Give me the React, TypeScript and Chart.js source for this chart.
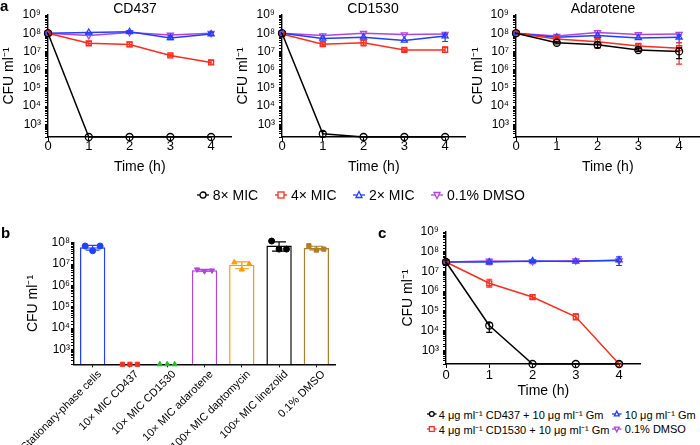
import React, { useEffect, useRef } from 'react';
import { Chart, registerables } from 'chart.js';

Chart.register(...registerables);

const FONT = '"Liberation Sans", Arial, Helvetica, sans-serif';
const BLACK = '#000000';
const RED = '#ff2b1c';
const BLUE = '#1f40ff';
const PURPLE = '#b443e0';
const GREEN = '#1fc41f';
const ORANGE = '#ff9a00';
const BROWN = '#b07d2a';

// ---------- Panel a ----------
const timeH = [0, 1, 2, 3, 4];

const cd437_8x = [1e8, 200, 200, 200, 200];
const cd437_4x = [1e8, 2.8e7, 2.4e7, 6e6, 2.5e6];
const cd437_2x = [1e8, 1.1e8, 1.2e8, 5.5e7, 9e7];
const cd437_dmso = [1e8, 7.5e7, 1.1e8, 8e7, 1e8];
const cd437_4x_err = [null, [2.2e7, 3.6e7], [1.8e7, 3.2e7], [5e6, 7e6], [2e6, 3.2e6]];
const cd437_2x_err = [null, null, [1e8, 1.35e8], [4.5e7, 7e7], [7.5e7, 1.1e8]];

const cd1530_8x = [1e8, 300, 200, 200, 200];
const cd1530_4x = [9e7, 2.5e7, 3e7, 1.2e7, 1.2e7];
const cd1530_2x = [1e8, 5.2e7, 6e7, 4e7, 7e7];
const cd1530_dmso = [1e8, 7.4e7, 1e8, 8.4e7, 9e7];
const cd1530_8x_err = [null, [200, 400], null, null, null];
const cd1530_4x_err = [null, [2e7, 3.2e7], [2e7, 4e7], [1e7, 1.4e7], [9e6, 1.8e7]];
const cd1530_2x_err = [null, null, null, null, [3.5e7, 9e7]];

const ada_8x = [1e8, 3e7, 2.3e7, 1.2e7, 1e7];
const ada_4x = [1e8, 4.8e7, 3.4e7, 2e7, 1.5e7];
const ada_2x = [1e8, 6e7, 7.5e7, 5.5e7, 6e7];
const ada_dmso = [1e8, 7e7, 1.1e8, 8.5e7, 9e7];
const ada_8x_err = [null, [2.6e7, 3.4e7], [1.6e7, 3e7], [1e7, 1.5e7], [4e6, 1.6e7]];
const ada_4x_err = [null, null, [1.5e7, 5e7], [1.5e7, 2.5e7], [2e6, 3e7]];
const ada_2x_err = [null, null, null, null, [3e7, 8e7]];

const legendA = ['8× MIC', '4× MIC', '2× MIC', '0.1% DMSO'];

// ---------- Panel b ----------
const bCategories = [
  'Stationary-phase cells',
  '10× MIC CD437',
  '10× MIC CD1530',
  '10× MIC adarotene',
  '100× MIC daptomycin',
  '100× MIC linezolid',
  '0.1% DMSO',
];
const bMeans = [6.2e7, null, null, 5.1e6, 9.2e6, 7.3e7, 5.6e7];
const bRepA = [7e7, 200, 200, 5.6e6, 1.2e7, 1.2e8, 7.2e7];
const bRepB = [4.2e7, 200, 200, 4.6e6, 5.5e6, 5e7, 4.5e7];
const bRepC = [7e7, 200, 200, 5e6, 1e7, 5e7, 5e7];
const bErrs = [[4.5e7, 7.5e7], null, null, [4.6e6, 5.6e6], [6e6, 1.25e7], [4e7, 1.1e8], [4.6e7, 6.8e7]];

// ---------- Panel c ----------
const c_cd437gm = [3e7, 1.8e4, 200, 200, 200];
const c_cd1530gm = [3e7, 2.5e6, 5e5, 5e4, 200];
const c_gm = [3e7, 3e7, 3.4e7, 3.2e7, 3.8e7];
const c_dmso = [3e7, 3.4e7, 3.2e7, 3.5e7, 3.5e7];
const c_cd437gm_err = [[2.2e7, 3.8e7], [8e3, 2.5e4], null, null, null];
const c_cd1530gm_err = [[2.5e7, 4e7], [1.6e6, 4e6], [4e5, 6.5e5], [3.5e4, 7e4], null];
const c_gm_err = [null, null, null, null, [2e7, 5.5e7]];
const c_dmso_err = [null, [2.2e7, 4e7], [2.5e7, 4e7], null, null];

const legendC = [
  '4 μg ml⁻¹ CD437 + 10 μg ml⁻¹ Gm',
  '4 μg ml⁻¹ CD1530 + 10 μg ml⁻¹ Gm',
  '10 μg ml⁻¹ Gm',
  '0.1% DMSO',
];

// ---------- helpers ----------
const SUP = ['⁰', '¹', '²', '³', '⁴', '⁵', '⁶', '⁷', '⁸', '⁹'];
function decadeLabel(v: number) {
  const e = Math.log10(v);
  const r = Math.round(e);
  if (Math.abs(e - r) > 1e-6) return '';
  return '10' + String(r).split('').map((d) => SUP[+d]).join('');
}

const errorBarPlugin = {
  id: 'errorBars',
  afterDatasetDraw(chart: any, args: any) {
    const ds = chart.data.datasets[args.index];
    const errs = ds.errs;
    if (!errs) return;
    const meta = args.meta;
    const ys = chart.scales[meta.yAxisID];
    const ctx = chart.ctx;
    ctx.save();
    ctx.lineWidth = ds.errWidth || 1.2;
    const cap = ds.capHalf || 3;
    errs.forEach((e: any, j: number) => {
      if (!e) return;
      const el = meta.data[j];
      if (!el) return;
      const col = Array.isArray(ds.borderColor) ? ds.borderColor[j] : ds.borderColor;
      ctx.strokeStyle = col;
      const x = el.x;
      const y1 = ys.getPixelForValue(e[0]);
      const y2 = ys.getPixelForValue(e[1]);
      ctx.beginPath();
      ctx.moveTo(x, y1);
      ctx.lineTo(x, y2);
      ctx.moveTo(x - cap, y1);
      ctx.lineTo(x + cap, y1);
      ctx.moveTo(x - cap, y2);
      ctx.lineTo(x + cap, y2);
      ctx.stroke();
    });
    ctx.restore();
  },
};

function series(label: string, values: number[], color: string, style: string, errs: any = null, rot = 0) {
  return {
    label,
    data: timeH.map((t, i) => ({ x: t, y: values[i] })),
    borderColor: color,
    backgroundColor: color,
    borderWidth: 1.5,
    pointStyle: style,
    rotation: rot,
    pointRadius: 3.5,
    pointBorderWidth: 1.3,
    pointBackgroundColor: 'rgba(255,255,255,0)',
    pointBorderColor: color,
    clip: false,
    tension: 0,
    errs,
  };
}

const axisGrid = (tl: number) => ({
  drawOnChartArea: false,
  drawTicks: true,
  tickLength: tl,
  color: '#000',
  lineWidth: 1,
});
const axisBorder = { display: true, color: '#000', width: 1.4 };

type Plot = { l: number; t: number; r: number; b: number };

function timeConfig(w: number, h: number, plot: Plot, yTitlePad: number, xTickPad: number, xTitlePad: number, datasets: any[]) {
  return {
    type: 'line',
    data: { datasets },
    plugins: [errorBarPlugin],
    options: {
      responsive: false,
      animation: false,
      devicePixelRatio: 1,
      events: [],
      layout: { padding: { left: 0, top: plot.t, right: w - plot.r, bottom: 0 }, autoPadding: false },
      plugins: { legend: { display: false }, tooltip: { enabled: false }, title: { display: false } },
      scales: {
        x: {
          type: 'linear',
          min: 0,
          max: 4.5,
          afterBuildTicks: (s: any) => {
            s.ticks = timeH.map((v) => ({ value: v }));
          },
          afterFit: (s: any) => {
            s.height = h - plot.b;
            s.paddingLeft = 0;
            s.paddingRight = 0;
          },
          grid: axisGrid(4),
          border: axisBorder,
          ticks: {
            color: '#000',
            font: { family: FONT, size: 13, lineHeight: 1 },
            padding: xTickPad,
            maxRotation: 0,
            autoSkip: false,
          },
          title: {
            display: true,
            text: 'Time (h)',
            color: '#000',
            font: { family: FONT, size: 14, lineHeight: 1.2 },
            padding: { top: 0, bottom: xTitlePad },
          },
        },
        y: {
          type: 'logarithmic',
          min: 200,
          max: 1e9,
          afterFit: (s: any) => {
            s.width = plot.l;
            s.paddingTop = 0;
            s.paddingBottom = 0;
          },
          grid: axisGrid(3),
          border: axisBorder,
          ticks: {
            color: '#000',
            font: { family: FONT, size: 12 },
            padding: 4,
            autoSkip: false,
            callback: (v: any) => decadeLabel(Number(v)),
          },
          title: {
            display: true,
            text: 'CFU ml⁻¹',
            color: '#000',
            font: { family: FONT, size: 14, lineHeight: 1.2 },
            padding: { top: yTitlePad, bottom: 0 },
          },
        },
      },
    },
  };
}

function barConfig(w: number, h: number, plot: Plot) {
  const colors = [BLUE, RED, GREEN, PURPLE, ORANGE, BLACK, BROWN];
  const styles = ['circle', 'rect', 'triangle', 'triangle', 'triangle', 'circle', 'rect'];
  const rots = [0, 0, 0, 180, 0, 0, 0];
  const offs = [-0.2, 0, 0.2];
  const reps = [bRepA, bRepB, bRepC];
  const pts: any[] = [];
  const pStyle: string[] = [];
  const pRot: number[] = [];
  const pCol: string[] = [];
  bCategories.forEach((_, i) => {
    reps.forEach((r, k) => {
      pts.push({ x: i + offs[k], y: r[i] });
      pStyle.push(styles[i]);
      pRot.push(rots[i]);
      pCol.push(colors[i]);
    });
  });
  return {
    type: 'bar',
    data: {
      labels: bCategories,
      datasets: [
        {
          type: 'scatter',
          xAxisID: 'x2',
          data: pts,
          pointStyle: pStyle,
          rotation: pRot,
          pointRadius: 3,
          pointBorderWidth: 1,
          pointBackgroundColor: pCol,
          pointBorderColor: pCol,
          clip: false,
        },
        {
          type: 'bar',
          xAxisID: 'x',
          data: bMeans,
          backgroundColor: '#ffffff',
          borderColor: colors,
          borderWidth: 1.5,
          barPercentage: 0.68,
          categoryPercentage: 1,
          grouped: false,
          errs: bErrs,
          capHalf: 7,
          clip: false,
        },
      ],
    },
    plugins: [errorBarPlugin],
    options: {
      responsive: false,
      animation: false,
      devicePixelRatio: 1,
      events: [],
      layout: { padding: { left: 0, top: plot.t, right: w - plot.r, bottom: 0 }, autoPadding: false },
      plugins: { legend: { display: false }, tooltip: { enabled: false } },
      scales: {
        x: {
          type: 'category',
          offset: true,
          afterFit: (s: any) => {
            s.height = h - plot.b;
            s.paddingLeft = 0;
            s.paddingRight = 0;
          },
          grid: { ...axisGrid(3), offset: false },
          border: axisBorder,
          ticks: {
            color: '#000',
            font: { family: FONT, size: 11, lineHeight: 1.1 },
            padding: 1,
            labelOffset: 7,
            minRotation: 45,
            maxRotation: 45,
            autoSkip: false,
          },
        },
        x2: {
          type: 'linear',
          min: -0.5,
          max: 6.5,
          offset: false,
          grid: { offset: false },
          display: false,
        },
        y: {
          type: 'logarithmic',
          min: 200,
          max: 1e8,
          afterFit: (s: any) => {
            s.width = plot.l;
            s.paddingTop = 0;
            s.paddingBottom = 0;
          },
          grid: axisGrid(3),
          border: axisBorder,
          ticks: {
            color: '#000',
            font: { family: FONT, size: 12 },
            padding: 1,
            autoSkip: false,
            callback: (v: any) => decadeLabel(Number(v)),
          },
          title: {
            display: true,
            text: 'CFU ml⁻¹',
            color: '#000',
            font: { family: FONT, size: 14, lineHeight: 1.2 },
            padding: { top: 24.6, bottom: 0 },
          },
        },
      },
    },
  };
}

function ChartCanvas({ left, top, width, height, config }: any) {
  const ref = useRef<HTMLCanvasElement>(null);
  useEffect(() => {
    const chart = new Chart(ref.current as HTMLCanvasElement, config() as any);
    return () => chart.destroy();
  }, []);
  return (
    <canvas
      ref={ref}
      width={width}
      height={height}
      style={{ position: 'absolute', left, top, width, height }}
    />
  );
}

function Marker({ color, shape, size = 1 }: any) {
  const w = 12 * size;
  const h = 10;
  const cx = w / 2;
  const cy = 5;
  const r = 3 * size;
  let mark: any = null;
  if (shape === 'circle') mark = <circle cx={cx} cy={cy} r={r} fill="white" stroke={color} strokeWidth={1.3} />;
  if (shape === 'rect')
    mark = <rect x={cx - r} y={cy - r} width={2 * r} height={2 * r} fill="white" stroke={color} strokeWidth={1.3} />;
  if (shape === 'tri')
    mark = (
      <polygon
        points={`${cx},${cy - r - 0.5} ${cx - r},${cy + r - 0.5} ${cx + r},${cy + r - 0.5}`}
        fill="white"
        stroke={color}
        strokeWidth={1.3}
      />
    );
  if (shape === 'itri')
    mark = (
      <polygon
        points={`${cx},${cy + r + 0.5} ${cx - r},${cy - r + 0.5} ${cx + r},${cy - r + 0.5}`}
        fill="white"
        stroke={color}
        strokeWidth={1.3}
      />
    );
  return (
    <svg width={w} height={h} style={{ display: 'block', flex: 'none' }}>
      <line x1={0} y1={cy} x2={w} y2={cy} stroke={color} strokeWidth={1.3} />
      {mark}
    </svg>
  );
}

function LegendItem({ x, y, color, shape, text, fontSize, size = 1, gap = 4 }: any) {
  const w = 12 * size;
  return (
    <div
      style={{
        position: 'absolute',
        left: x - w / 2,
        top: y - 8,
        height: 16,
        display: 'flex',
        alignItems: 'center',
        whiteSpace: 'nowrap',
        fontFamily: FONT,
        fontSize,
        color: '#000',
      }}
    >
      <Marker color={color} shape={shape} size={size} />
      <span style={{ marginLeft: gap }}>{text}</span>
    </div>
  );
}

function Label({ x, y, text, size = 14, bold = false, center = true }: any) {
  return (
    <div
      style={{
        position: 'absolute',
        left: x,
        top: y,
        transform: center ? 'translate(-50%, -50%)' : 'translate(0, -50%)',
        fontFamily: FONT,
        fontSize: size,
        fontWeight: bold ? 'bold' : 'normal',
        lineHeight: 1,
        whiteSpace: 'nowrap',
        color: '#000',
      }}
    >
      {text}
    </div>
  );
}

export default function App() {
  const aPlot: Plot = { l: 48, t: 15, r: 231.5, b: 137 };
  const cfgA1 = () =>
    timeConfig(240, 180, aPlot, 0.6, -1.5, 4.6, [
      series(legendA[0], cd437_8x, BLACK, 'circle'),
      series(legendA[1], cd437_4x, RED, 'rect', cd437_4x_err),
      series(legendA[2], cd437_2x, BLUE, 'triangle', cd437_2x_err),
      series(legendA[3], cd437_dmso, PURPLE, 'triangle', null, 180),
    ]);
  const cfgA2 = () =>
    timeConfig(240, 180, aPlot, 0.6, -1.5, 4.6, [
      series(legendA[0], cd1530_8x, BLACK, 'circle', cd1530_8x_err),
      series(legendA[1], cd1530_4x, RED, 'rect', cd1530_4x_err),
      series(legendA[2], cd1530_2x, BLUE, 'triangle', cd1530_2x_err),
      series(legendA[3], cd1530_dmso, PURPLE, 'triangle', null, 180),
    ]);
  const cfgA3 = () =>
    timeConfig(240, 180, aPlot, 1.6, -1.5, 4.6, [
      series(legendA[0], ada_8x, BLACK, 'circle', ada_8x_err),
      series(legendA[1], ada_4x, RED, 'rect', ada_4x_err),
      series(legendA[2], ada_2x, BLUE, 'triangle', ada_2x_err),
      series(legendA[3], ada_dmso, PURPLE, 'triangle', null, 180),
    ]);
  const cPlot: Plot = { l: 66, t: 10, r: 260.7, b: 142 };
  const cfgC = () =>
    timeConfig(320, 180, cPlot, 19.6, 0.5, 2, [
      series(legendC[0], c_cd437gm, BLACK, 'circle', c_cd437gm_err),
      series(legendC[1], c_cd1530gm, RED, 'rect', c_cd1530gm_err),
      series(legendC[2], c_gm, BLUE, 'triangle', c_gm_err),
      series(legendC[3], c_dmso, PURPLE, 'triangle', c_dmso_err, 180),
    ]);
  const bPlot: Plot = { l: 74, t: 17.7, r: 335, b: 139.3 };
  const cfgB = () => barConfig(345, 220, bPlot);

  return (
    <div
      style={{
        position: 'absolute',
        left: 0,
        top: 0,
        width: 700,
        height: 445,
        overflow: 'hidden',
        background: '#ffffff',
      }}
    >
      <ChartCanvas left={0} top={0} width={240} height={180} config={cfgA1} />
      <ChartCanvas left={234} top={0} width={240} height={180} config={cfgA2} />
      <ChartCanvas left={468} top={0} width={240} height={180} config={cfgA3} />
      <ChartCanvas left={0} top={225} width={345} height={220} config={cfgB} />
      <ChartCanvas left={380} top={222} width={320} height={180} config={cfgC} />

      <Label x={0} y={5} text="a" size={15} bold center={false} />
      <Label x={1} y={232} text="b" size={15} bold center={false} />
      <Label x={378} y={232} text="c" size={15} bold center={false} />

      <Label x={135} y={8} text="CD437" size={14} />
      <Label x={373} y={8} text="CD1530" size={14} />
      <Label x={603} y={8} text="Adarotene" size={14} />

      <LegendItem x={202.7} y={195} color={BLACK} shape="circle" text={legendA[0]} fontSize={14} />
      <LegendItem x={281} y={195} color={RED} shape="rect" text={legendA[1]} fontSize={14} />
      <LegendItem x={359} y={195} color={BLUE} shape="tri" text={legendA[2]} fontSize={14} />
      <LegendItem x={437} y={195} color={PURPLE} shape="itri" text={legendA[3]} fontSize={14} />

      <LegendItem x={432} y={414} color={BLACK} shape="circle" text={legendC[0]} fontSize={11} size={0.8} gap={2} />
      <LegendItem x={432} y={429} color={RED} shape="rect" text={legendC[1]} fontSize={11} size={0.8} gap={2} />
      <LegendItem x={617} y={414} color={BLUE} shape="tri" text={legendC[2]} fontSize={11} size={0.8} gap={3} />
      <LegendItem x={617} y={429} color={PURPLE} shape="itri" text={legendC[3]} fontSize={11} size={0.8} gap={3} />
    </div>
  );
}
